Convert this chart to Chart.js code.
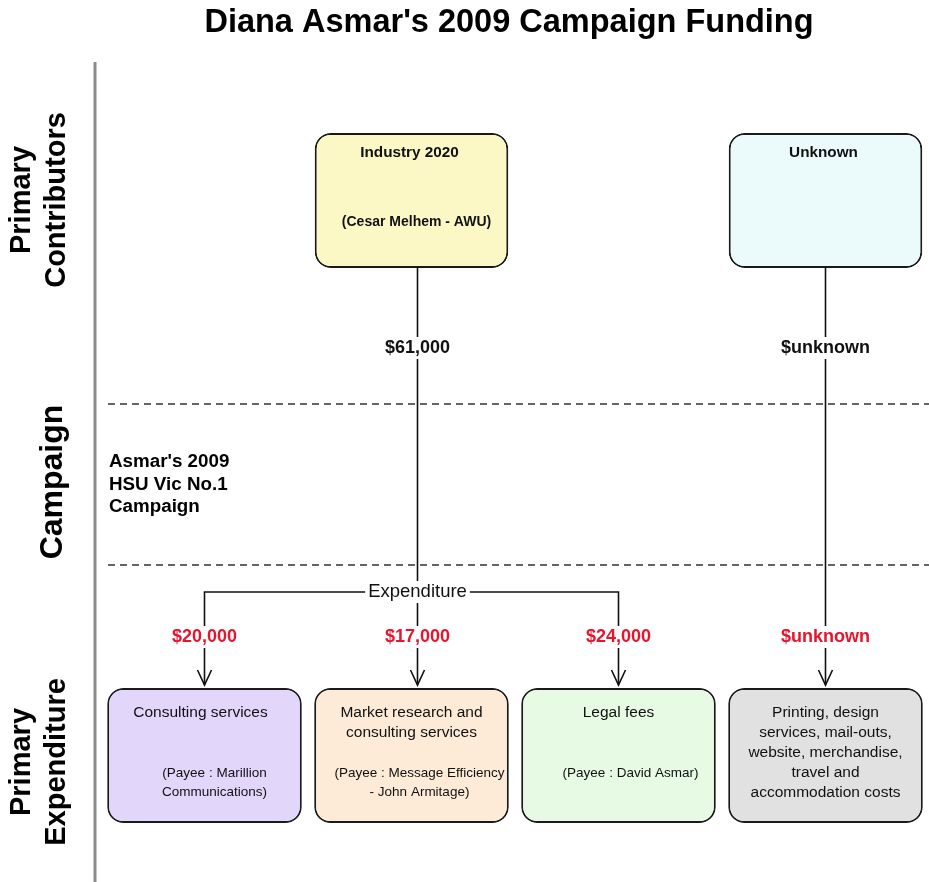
<!DOCTYPE html>
<html>
<head>
<meta charset="utf-8">
<script src="https://cdn.jsdelivr.net/npm/chart.js@4/dist/chart.umd.min.js"></script>
<style>
  html, body { margin: 0; padding: 0; background: #fff; }
  canvas { display: block; }
</style>
</head>
<body>
<canvas id="flow" width="929" height="882"></canvas>
<script>
// Chart values
const title = "Diana Asmar's 2009 Campaign Funding";
const rowLabels = [['Primary', 'Contributors'], ['Campaign'], ['Primary', 'Expenditure']];
const campaignName = ["Asmar's 2009", 'HSU Vic No.1', 'Campaign'];

const columns = ['Consulting', 'Market research', 'Legal', 'Other'];
const sources = ['Industry 2020', 'Unknown'];
const sourceNotes = ['(Cesar Melhem - AWU)', ''];
const sourceColumns = [1, 3];
const sourceAmounts = [61000, null];

const spendItems = [
    ['Consulting services'],
    ['Market research and', 'consulting services'],
    ['Legal fees'],
    ['Printing, design', 'services, mail-outs,', 'website, merchandise,', 'travel and', 'accommodation costs']
];
const spendPayees = [
    ['(Payee : Marillion', 'Communications)'],
    ['(Payee : Message Efficiency', '- John Armitage)'],
    ['(Payee : David Asmar)'],
    []
];
const spendAmounts = [20000, 17000, 24000, null];
const expenditureLabel = 'Expenditure';

// Layout (diagram units on the y scale, pixels elsewhere)
const layout = {
    topBox: [133, 268],
    bottomBox: [688, 823],
    sourceAmountY: 348,
    splitY: 592,
    spendAmountY: 637,
    arrowTipY: 685,
    dashes: [404, 565],
    trunkOffset: 6
};
const sourceColors = ['#fcf8c6', '#ebfbfc'];
const spendColors = ['#e2d6fb', '#fdebd8', '#e6fae4', '#e1e1e1'];
const FONT = '"Liberation Sans", Arial, sans-serif';

function formatAmount(v) {
    if (v === null) return '$unknown';
    return '$' + v.toLocaleString('en-US');
}

// top boxes: one bar per contributor placed in its column
const topData = columns.map(() => null);
const topFill = columns.map(() => 'transparent');
sources.forEach((s, i) => {
    topData[sourceColumns[i]] = layout.topBox;
    topFill[sourceColumns[i]] = sourceColors[i];
});

function labelWithBg(ctx, text, x, y, font, color) {
    ctx.font = font;
    const w = ctx.measureText(text).width;
    ctx.fillStyle = '#fff';
    ctx.fillRect(x - w / 2 - 3, y - 11, w + 6, 22);
    ctx.fillStyle = color;
    ctx.fillText(text, x, y);
}

function arrow(ctx, x, tip) {
    ctx.beginPath();
    ctx.moveTo(x - 7, tip - 15);
    ctx.lineTo(x, tip);
    ctx.lineTo(x + 7, tip - 15);
    ctx.stroke();
}

const flowPlugin = {
    id: 'flow',
    beforeDatasetsDraw(chart) {
        const ctx = chart.ctx;
        const xs = chart.scales.x, ys = chart.scales.y;
        const Y = v => ys.getPixelForValue(v);
        ctx.save();

        // section separators
        ctx.strokeStyle = '#8c8c8c';
        ctx.lineWidth = 3;
        ctx.beginPath();
        ctx.moveTo(95, 62);
        ctx.lineTo(95, chart.height);
        ctx.stroke();

        ctx.strokeStyle = '#333';
        ctx.lineWidth = 1.4;
        ctx.setLineDash([7, 5]);
        layout.dashes.forEach(d => {
            ctx.beginPath();
            ctx.moveTo(108, Y(d));
            ctx.lineTo(chart.width, Y(d));
            ctx.stroke();
        });
        ctx.setLineDash([]);

        // connectors
        ctx.strokeStyle = '#111';
        ctx.lineWidth = 1.6;
        sourceColumns.forEach((c, i) => {
            const x = xs.getPixelForValue(c) + (sourceAmounts[i] !== null ? layout.trunkOffset : 0);
            ctx.beginPath();
            ctx.moveTo(x, Y(layout.topBox[1]));
            ctx.lineTo(x, Y(layout.arrowTipY));
            ctx.stroke();
            arrow(ctx, x, Y(layout.arrowTipY));
        });
        // split of the known funding
        const split = [0, 2].map(c => xs.getPixelForValue(c));
        ctx.beginPath();
        ctx.moveTo(split[0], Y(layout.arrowTipY));
        ctx.lineTo(split[0], Y(layout.splitY));
        ctx.lineTo(split[1], Y(layout.splitY));
        ctx.lineTo(split[1], Y(layout.arrowTipY));
        ctx.stroke();
        split.forEach(x => arrow(ctx, x, Y(layout.arrowTipY)));
        ctx.restore();
    },
    afterDatasetsDraw(chart) {
        const ctx = chart.ctx;
        const xs = chart.scales.x, ys = chart.scales.y;
        const Y = v => ys.getPixelForValue(v);
        ctx.save();
        ctx.textAlign = 'center';
        ctx.textBaseline = 'middle';

        // title
        ctx.fillStyle = '#000';
        ctx.font = 'bold 32.5px ' + FONT;
        ctx.fillText(title, 509, 23);

        // row labels (rotated), baselines given as x positions
        const rowCenters = [200, 482, 762];
        const rowBaselines = [[30, 65], [62], [30, 65]];
        const rowSizes = [29, 32, 29];
        ctx.textBaseline = 'alphabetic';
        rowLabels.forEach((lines, r) => {
            ctx.font = 'bold ' + rowSizes[r] + 'px ' + FONT;
            lines.forEach((t, k) => {
                ctx.save();
                ctx.translate(rowBaselines[r][k], rowCenters[r]);
                ctx.rotate(-Math.PI / 2);
                ctx.fillText(t, 0, 0);
                ctx.restore();
            });
        });
        ctx.textBaseline = 'middle';

        // campaign name
        ctx.textAlign = 'left';
        ctx.font = 'bold 18.8px ' + FONT;
        campaignName.forEach((t, k) => ctx.fillText(t, 109, 462 + k * 22.5));
        ctx.textAlign = 'center';

        // contributor boxes
        sources.forEach((s, i) => {
            const x = xs.getPixelForValue(sourceColumns[i]);
            ctx.fillStyle = '#111';
            ctx.font = 'bold 15.3px ' + FONT;
            ctx.fillText(s, x - 2, Y(153));
            if (sourceNotes[i]) {
                ctx.font = 'bold 14px ' + FONT;
                ctx.fillText(sourceNotes[i], x + 5, Y(222));
            }
            const ax = x + (sourceAmounts[i] !== null ? layout.trunkOffset : 0);
            labelWithBg(ctx, formatAmount(sourceAmounts[i]), ax, Y(layout.sourceAmountY), 'bold 18px ' + FONT, '#111');
        });

        // expenditure split label
        labelWithBg(ctx, expenditureLabel, xs.getPixelForValue(1) + layout.trunkOffset, Y(layout.splitY), '18.5px ' + FONT, '#111');

        // expenditure amounts and boxes
        const payeeShift = [10, 8, 12, 0];
        spendItems.forEach((lines, i) => {
            const x = xs.getPixelForValue(i);
            const ax = i === 1 ? x + layout.trunkOffset : x;
            labelWithBg(ctx, formatAmount(spendAmounts[i]), ax, Y(layout.spendAmountY), 'bold 18px ' + FONT, '#e8132c');
            ctx.fillStyle = '#111';
            ctx.font = '15.5px ' + FONT;
            lines.forEach((t, k) => ctx.fillText(t, x - (i === 0 ? 4 : 0), Y(713 + k * 20)));
            ctx.font = '13.5px ' + FONT;
            spendPayees[i].forEach((t, k) => ctx.fillText(t, x + payeeShift[i], Y(773 + k * 19)));
        });
        ctx.restore();
    }
};

new Chart(document.getElementById('flow'), {
    type: 'bar',
    data: {
        labels: columns,
        datasets: [
            {
                label: 'Primary Contributors',
                data: topData,
                backgroundColor: topFill,
                borderColor: topData.map(d => d ? '#1a1a1a' : 'transparent'),
                borderWidth: 2,
                borderRadius: 16,
                borderSkipped: false,
                grouped: false,
                categoryPercentage: 1,
                barPercentage: 0.935
            },
            {
                label: 'Primary Expenditure',
                data: columns.map(() => layout.bottomBox),
                backgroundColor: spendColors,
                borderColor: '#1a1a1a',
                borderWidth: 2,
                borderRadius: 16,
                borderSkipped: false,
                grouped: false,
                categoryPercentage: 1,
                barPercentage: 0.94
            }
        ]
    },
    options: {
        responsive: false,
        animation: false,
        events: [],
        layout: { padding: { left: 101, right: 0, top: 0, bottom: 0 } },
        scales: {
            x: { display: false, offset: true },
            y: { display: false, min: 0, max: 882, reverse: true }
        },
        plugins: {
            legend: { display: false },
            tooltip: { enabled: false },
            title: { display: false }
        }
    },
    plugins: [flowPlugin]
});
</script>
</body>
</html>
